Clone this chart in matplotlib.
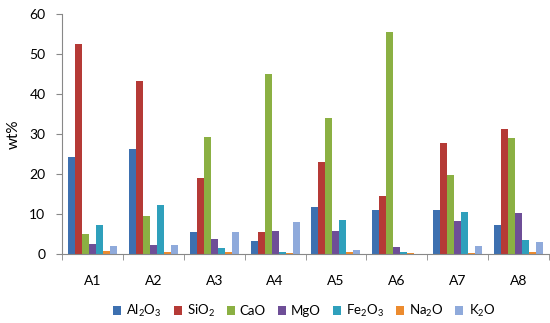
import matplotlib
matplotlib.use("Agg")
import matplotlib.pyplot as plt
import numpy as np

plt.rcParams["font.family"] = ["Lato", "DejaVu Sans"]
plt.rcParams["mathtext.fontset"] = "custom"
plt.rcParams["mathtext.rm"] = "Lato"

categories = ["A1", "A2", "A3", "A4", "A5", "A6", "A7", "A8"]
series_names = ["Al$_2$O$_3$", "SiO$_2$", "CaO", "MgO", "Fe$_2$O$_3$", "Na$_2$O", "K$_2$O"]
al2o3 = [24.3, 26.3, 5.6, 3.3, 11.7, 11.1, 11.0, 7.4]
sio2 = [52.5, 43.2, 19.0, 5.5, 22.9, 14.4, 27.8, 31.2]
cao = [5.0, 9.5, 29.3, 45.0, 34.0, 55.5, 19.7, 29.0]
mgo = [2.5, 2.4, 3.7, 5.8, 5.9, 1.9, 8.2, 10.2]
fe2o3 = [7.2, 12.3, 1.6, 0.6, 8.5, 0.5, 10.4, 3.5]
na2o = [0.8, 0.6, 0.5, 0.4, 0.6, 0.3, 0.2, 0.6]
k2o = [2.1, 2.3, 5.6, 8.1, 1.0, 0.1, 2.0, 3.1]
series = [al2o3, sio2, cao, mgo, fe2o3, na2o, k2o]
colors = ["#3D70B0", "#B53A36", "#8BB043", "#6E4E97", "#2FA0BC", "#EC8B2F", "#8FAADB"]

fig = plt.figure(figsize=(5.5, 3.23), dpi=100)
ax = fig.add_axes([0.113, 0.213, 0.885, 0.745])

x = np.arange(len(categories))
bw = 0.115
n = len(series)
for i, (vals, c, name) in enumerate(zip(series, colors, series_names)):
    off = (i - (n - 1) / 2) * bw
    ax.bar(x + off, vals, width=bw, color=c, label=name, linewidth=0)

ax.set_xlim(-0.5, len(categories) - 0.5)
ax.set_ylim(0, 60)
ax.set_yticks(range(0, 61, 10))
ax.set_xticks(x)
ax.set_xticklabels(categories)
ax.set_xticks(np.arange(-0.5, len(categories), 1), minor=True)
ax.tick_params(axis="x", which="major", length=0, pad=15, labelsize=10)
ax.tick_params(axis="x", which="minor", length=4, color="#888888", direction="out")
ax.tick_params(axis="y", length=4, color="#888888", labelsize=10, direction="out", pad=8)
for s in ["top", "right"]:
    ax.spines[s].set_visible(False)
for s in ["left", "bottom"]:
    ax.spines[s].set_color("#888888")
ax.set_ylabel("wt%", fontsize=11, labelpad=6)

fig.legend(loc="center", bbox_to_anchor=(0.553, 0.036), ncol=7, frameon=False,
           handlelength=0.6, handleheight=0.6, handletextpad=0.4, columnspacing=0.9,
           fontsize=9.5)

fig.savefig("out.png", dpi=100)
